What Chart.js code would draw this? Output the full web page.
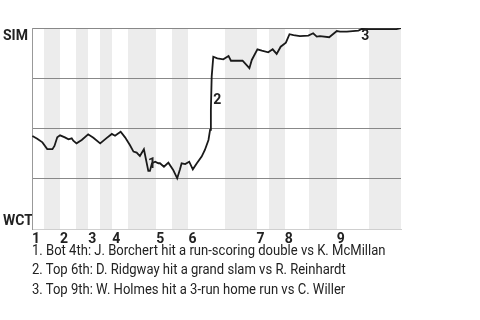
<!DOCTYPE html>
<html>
<head>
<meta charset="utf-8">
<script src="https://cdn.jsdelivr.net/npm/chart.js@4"></script>
<style>
    body { margin: 0; background: #fff; width: 480px; height: 320px; position: relative; overflow: hidden; }
    #chart-box { position: absolute; left: 0; top: 0; width: 480px; height: 246px; }
    #notes {
        position: absolute; left: 32px; top: 241px;
        font-family: Roboto, sans-serif; font-size: 15px; line-height: 19.3px; color: #222;
        transform: scaleX(0.87); transform-origin: left top; white-space: nowrap;
    }
</style>
</head>
<body>
<div id="chart-box"><canvas id="chart"></canvas></div>
<div id="notes">
    <div>1. Bot 4th: J. Borchert hit a run-scoring double vs K. McMillan</div>
    <div>2. Top 6th: D. Ridgway hit a grand slam vs R. Reinhardt</div>
    <div>3. Top 9th: W. Holmes hit a 3-run home run vs C. Willer</div>
</div>
<script>
// plate appearance index where each half inning starts (last = end of game)
const halfInningStarts = [0, 3, 7, 11, 14, 17, 20, 24, 31, 35, 39, 48, 56, 59, 63, 69, 76, 84, 92];
const inningLabels = ["1", "2", "3", "4", "5", "6", "7", "8", "9"];

// win probability for SIM (0 = WCT wins, 100 = SIM wins)
const paIndex = [
    0.1, 1.3, 2.6, 3.8, 5.1, 5.6, 6.3, 7.0, 8.2, 9.1, 9.9, 10.3, 11.1, 12.4, 14.0, 15.3, 17.0, 18.5, 19.9, 20.7,
    22.1, 23.2, 24.4, 25.3, 26.1, 26.9, 27.9, 29.0, 29.4, 29.9, 30.7, 31.5, 31.9, 32.9, 34.0, 35.2, 36.2, 36.9,
    37.3, 38.2, 39.2, 40.1, 41.1, 42.3, 43.1, 44.0, 44.4, 44.6, 44.8, 45.2, 46.2, 47.7, 49.0, 49.6, 50.6, 52.5,
    54.2, 54.8, 56.2, 57.3, 58.9, 60.0, 61.0, 62.0, 63.3, 64.2, 65.2, 66.8, 68.9, 70.1, 71.0, 71.8, 74.1, 76.0,
    76.8, 78.5, 81.4, 82.2, 83.9, 87.2, 90.9, 92.0
];
const winProb = [
    46.3, 44.9, 43.1, 39.8, 39.7, 41.3, 45.6, 46.6, 45.6, 44.6, 45.1, 43.9, 42.6, 44.3, 47.1, 45.4, 42.6, 45.1, 47.3, 46.4,
    48.4, 45.6, 41.8, 38.5, 38.0, 36.3, 39.7, 28.9, 28.9, 32.7, 33.5, 32.7, 32.7, 31.0, 33.0, 29.4, 25.2, 29.7,
    32.7, 32.3, 33.5, 29.7, 32.7, 36.0, 39.3, 44.3, 49.3, 59.2, 75.8, 85.7, 84.9, 84.4, 86.1, 83.7, 83.7, 83.7,
    80.0, 84.1, 89.4, 88.7, 87.9, 89.4, 87.1, 90.7, 92.7, 96.9, 96.5, 96.0, 96.2, 97.4, 95.7, 96.0, 95.4, 98.5,
    98.2, 98.2, 98.7, 99.5, 99.4, 99.4, 99.4, 100
];

// key plays
const eventAt = [29.4, 44.8, 82.2];
const eventLabels = ["1", "2", "3"];

// team labels on the y axis
const teamTickValues = [96.0, 3.5];
const teamTickLabels = ["SIM", "WCT"];
const gridValues = [0, 25, 50, 75, 100];

const labelFont = { family: "'Liberation Sans Narrow', 'Roboto', sans-serif", size: 14, weight: "bold" };
const eventOffsets = [[2, -6], [5.5, 24], [3.5, 7.5]];

function winProbAt(x) {
    for (let i = 1; i < paIndex.length; i++) {
        if (paIndex[i] >= x) {
            let t = (x - paIndex[i - 1]) / (paIndex[i] - paIndex[i - 1]);
            return winProb[i - 1] + t * (winProb[i] - winProb[i - 1]);
        }
    }
    return winProb[winProb.length - 1];
}

const bandsPlugin = {
    id: "bands",
    beforeDraw(chart) {
        const { ctx, chartArea, scales } = chart;
        ctx.save();
        ctx.fillStyle = "#ececec";
        for (let i = 1; i < halfInningStarts.length - 1; i += 2) {
            let x1 = Math.round(scales.x.getPixelForValue(halfInningStarts[i]));
            let x2 = Math.round(scales.x.getPixelForValue(halfInningStarts[i + 1]));
            ctx.fillRect(x1, chartArea.top, x2 - x1, chartArea.bottom - chartArea.top);
        }
        ctx.restore();
    }
};

const eventsPlugin = {
    id: "events",
    afterDatasetsDraw(chart) {
        const { ctx, scales } = chart;
        ctx.save();
        ctx.font = `${labelFont.weight} ${labelFont.size}px ${labelFont.family}`;
        ctx.fillStyle = "#222";
        ctx.textAlign = "center";
        ctx.textBaseline = "middle";
        eventAt.forEach((x, i) => {
            let px = scales.x.getPixelForValue(x) + eventOffsets[i][0];
            let py = scales.y.getPixelForValue(winProbAt(x)) + eventOffsets[i][1];
            ctx.fillText(eventLabels[i], px, py);
        });
        ctx.restore();
    }
};

const inningStarts = halfInningStarts.filter((v, i) => i % 2 === 0 && i < halfInningStarts.length - 1);

new Chart(document.getElementById("chart"), {
    type: "line",
    data: {
        datasets: [{
            data: paIndex.map((x, i) => ({ x: x, y: winProb[i] })),
            borderColor: "#1a1a1a",
            borderWidth: 1.8,
            pointRadius: 0,
            tension: 0
        }]
    },
    options: {
        responsive: true,
        maintainAspectRatio: false,
        animation: false,
        layout: { padding: { top: 28, right: 79, left: 3, bottom: 0 } },
        plugins: { legend: { display: false }, tooltip: { enabled: false } },
        scales: {
            x: {
                type: "linear",
                min: 0,
                max: 92,
                afterFit: (s) => { s.height = 17; },
                afterBuildTicks: (s) => { s.ticks = inningStarts.map((v) => ({ value: v })); },
                grid: { display: false, drawTicks: false },
                border: { display: true, color: "#cfcfcf", width: 1 },
                ticks: {
                    autoSkip: false,
                    maxRotation: 0,
                    padding: 2,
                    labelOffset: 4,
                    color: "#222",
                    font: labelFont,
                    callback: (v, i) => inningLabels[i]
                }
            },
            y: {
                min: 0,
                max: 100,
                afterFit: (s) => { s.width = 29; },
                afterBuildTicks: (s) => {
                    s.ticks = gridValues.concat(teamTickValues).map((v) => ({ value: v }));
                },
                grid: {
                    drawTicks: false,
                    color: (c) => {
                        let v = c.tick ? c.tick.value : null;
                        if (v === 0) return "#cfcfcf";
                        if (gridValues.includes(v)) return "#888";
                        return "rgba(0,0,0,0)";
                    }
                },
                border: { display: true, color: "#999", width: 1 },
                ticks: {
                    crossAlign: "far",
                    padding: 0,
                    color: "#222",
                    font: labelFont,
                    callback: (v) => {
                        let k = teamTickValues.indexOf(v);
                        return k >= 0 ? teamTickLabels[k] : "";
                    }
                }
            }
        }
    },
    plugins: [bandsPlugin, eventsPlugin]
});
</script>
</body>
</html>
